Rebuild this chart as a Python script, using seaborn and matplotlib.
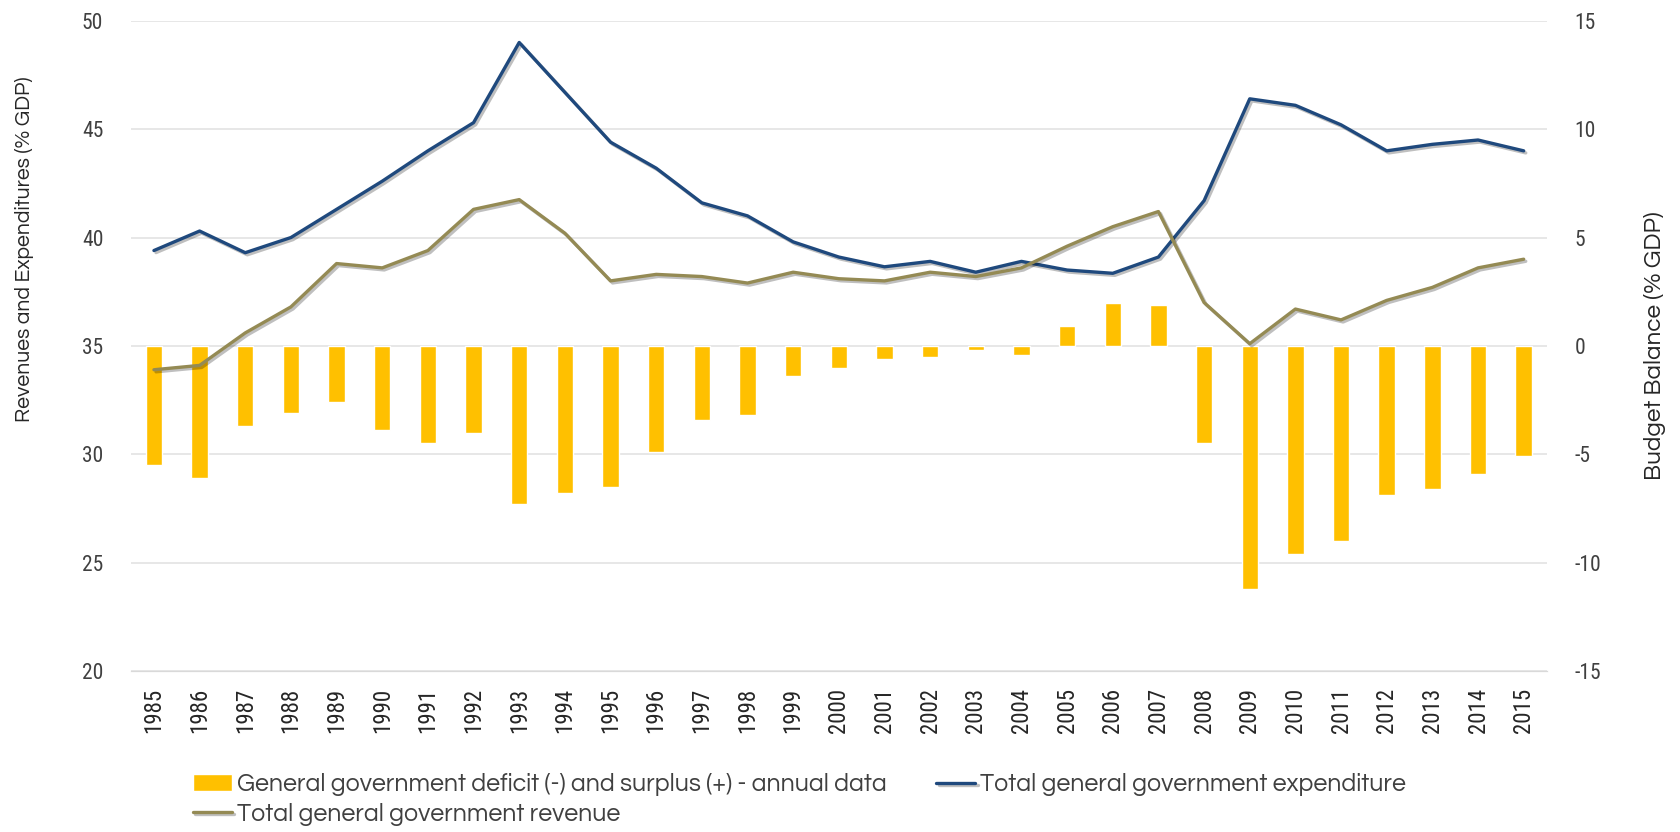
import matplotlib
matplotlib.use("Agg")
import matplotlib.pyplot as plt
import matplotlib.patheffects as pe
import seaborn as sns
import numpy as np
import pandas as pd

# Dados
anos = [str(a) for a in range(1985, 2016)]
saldo = [-5.5, -6.1, -3.7, -3.1, -2.6, -3.9, -4.5, -4.0, -7.3, -6.8,
         -6.5, -4.9, -3.4, -3.2, -1.4, -1.0, -0.6, -0.5, -0.2, -0.4,
         0.9, 2.0, 1.9, -4.5, -11.2, -9.6, -9.0, -6.9, -6.6, -5.9, -5.1]
despesa = [39.4, 40.3, 39.3, 40.0, 41.3, 42.6, 44.0, 45.3, 49.0, 46.7,
           44.4, 43.2, 41.6, 41.0, 39.8, 39.1, 38.65, 38.9, 38.4, 38.9,
           38.5, 38.35, 39.1, 41.7, 46.4, 46.1, 45.2, 44.0, 44.3, 44.5, 44.0]
receita = [33.9, 34.1, 35.6, 36.8, 38.8, 38.6, 39.4, 41.3, 41.75, 40.2,
           38.0, 38.3, 38.2, 37.9, 38.4, 38.1, 38.0, 38.4, 38.2, 38.6,
           39.6, 40.5, 41.2, 37.0, 35.1, 36.7, 36.2, 37.1, 37.7, 38.6, 39.0]

nome_saldo = "General government deficit (-) and surplus (+) - annual data"
nome_despesa = "Total general government expenditure"
nome_receita = "Total general government revenue"

df = pd.DataFrame({"ano": anos, "pos": np.arange(len(anos)),
                   "saldo": saldo, "despesa": despesa, "receita": receita})

sns.set_style("white")
plt.rcParams["axes.unicode_minus"] = False
fonte_num = ["Roboto Condensed", "Liberation Sans", "DejaVu Sans"]
fonte_txt = ["Questrial", "Lato", "DejaVu Sans"]

fig, ax = plt.subplots(figsize=(16.81, 8.32), dpi=100)
fig.subplots_adjust(left=0.078, right=0.920, top=0.975, bottom=0.1935)
ax2 = ax.twinx()

# Barras no eixo da direita (fica por baixo)
sns.barplot(data=df, x="ano", y="saldo", ax=ax2, color="#FFC000",
            width=0.36, saturation=1, zorder=2)
ax2.set_ylim(-15, 15)
ax2.set_yticks(np.arange(-15, 16, 5))
ax2.yaxis.grid(True, color="#E3E3E3", linewidth=1.2, zorder=0)
ax2.set_axisbelow(True)

# Linhas no eixo da esquerda (fica por cima)
ax.set_zorder(ax2.get_zorder() + 1)
ax.patch.set_visible(False)
sombra = [pe.SimpleLineShadow(offset=(1.5, -1.5), alpha=0.25), pe.Normal()]
sns.lineplot(data=df, x="pos", y="despesa", ax=ax, color="#1F497D",
             linewidth=2.4, path_effects=sombra)
sns.lineplot(data=df, x="pos", y="receita", ax=ax, color="#948A54",
             linewidth=2.4, path_effects=sombra)
ax.set_ylim(20, 50)
ax.set_yticks(np.arange(20, 51, 5))
ax.set_xlim(-0.5, len(anos) - 0.5)

# Eixo x: rótulos dos anos e marcas entre categorias
ax.set_xticks(np.arange(len(anos)))
ax.set_xticklabels(anos, rotation=90, fontsize=16.5, family=fonte_num,
                   color="#262626")
ax.set_xticks(np.arange(len(anos) + 1) - 0.5, minor=True)
ax.tick_params(axis="x", which="major", length=0, pad=12)
ax.tick_params(axis="x", which="minor", length=7, color="#D9D9D9", width=1)
ax2.tick_params(axis="x", length=0)
ax2.set_xlabel("")

for a in (ax, ax2):
    for lado in ("left", "right", "top"):
        a.spines[lado].set_visible(False)
    a.spines["bottom"].set_color("#D9D9D9")

ax.tick_params(axis="y", length=0, labelsize=15.5, pad=20)
ax2.tick_params(axis="y", length=0, labelsize=15.5, pad=20)
for t in ax.get_yticklabels() + ax2.get_yticklabels():
    t.set_family(fonte_num)
    t.set_color("#404040")

ax.set_xlabel("")
ax.set_ylabel("")
ax2.set_ylabel("")
fig.text(0.0143, 0.7007, "Revenues and Expenditures (% GDP)", rotation=90,
         ha="center", va="center", fontsize=15.2, family=fonte_txt,
         color="#262626")
fig.text(0.9845, 0.584, "Budget Balance (% GDP)", rotation=90,
         ha="center", va="center", fontsize=17.5, family=fonte_txt,
         color="#262626")

# Legenda
barras = ax2.patches[0]
linhas = ax.get_lines()
fig.legend([barras, linhas[1], linhas[0]],
           [nome_saldo, nome_receita, nome_despesa],
           loc="upper left", bbox_to_anchor=(0.1148, 0.0705), ncol=2,
           frameon=False, prop={"family": fonte_txt, "size": 17.9},
           borderpad=0, borderaxespad=0,
           handlelength=1.57, handletextpad=0.2, columnspacing=2.0,
           labelspacing=0.25, labelcolor="#404040")

plt.savefig("out.png", dpi=100)
